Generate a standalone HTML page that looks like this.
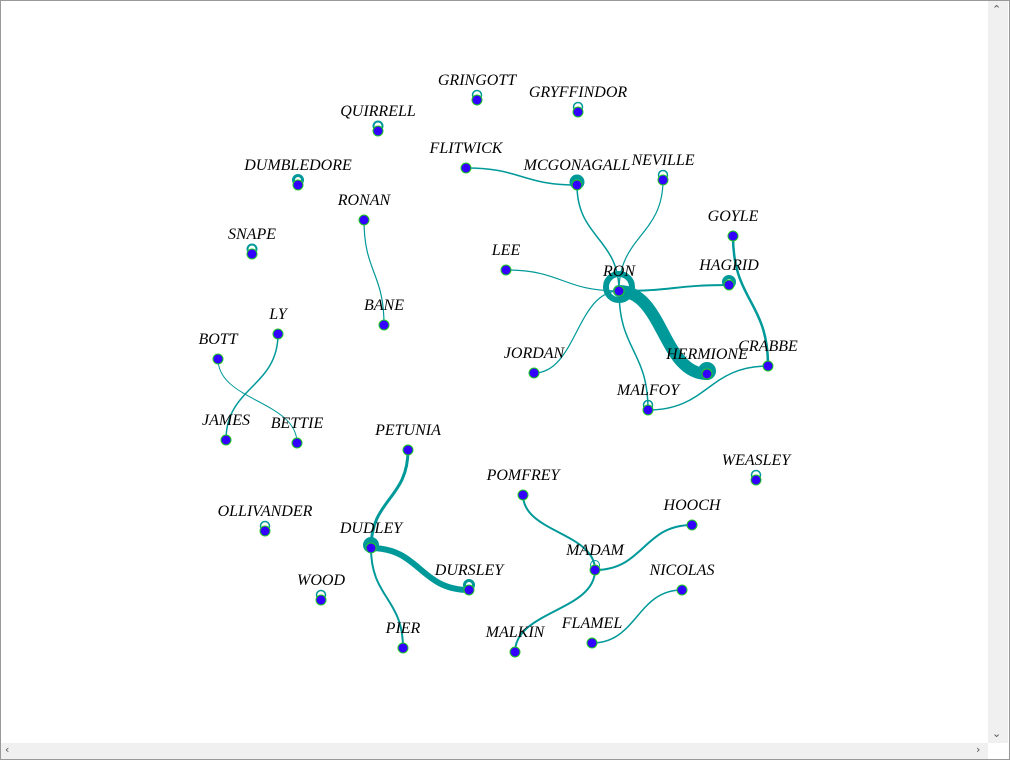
<!DOCTYPE html>
<html><head><meta charset="utf-8"><style>
body{margin:0;width:1010px;height:760px;overflow:hidden;background:#fff;font-family:"Liberation Serif",serif}
#frame{position:absolute;left:0;top:0;width:1008px;height:758px;border:1px solid #999;background:#fff}
.sbv{position:absolute;left:988px;top:1px;width:20px;height:742px;background:#f0f0f0}
.sbh{position:absolute;left:1px;top:743px;width:987px;height:16px;background:#f0f0f0}
.ar{position:absolute;font:11px "DejaVu Sans",sans-serif;color:#555}
text{font-family:"Liberation Serif",serif;font-style:italic;font-size:16px;fill:#000}
</style></head><body>
<div id="frame"></div>
<div class="sbv"></div>
<div class="sbh"></div>
<div class="ar" style="left:992px;top:3px">&#8963;</div>
<div class="ar" style="left:992px;top:727px">&#8964;</div>
<div class="ar" style="left:5px;top:743px">&lsaquo;</div>
<div class="ar" style="left:976px;top:743px">&rsaquo;</div>
<svg id="g" width="1010" height="760" style="position:absolute;left:0;top:0"></svg>
<script>
const nodeNames=["GRINGOTT","GRYFFINDOR","QUIRRELL","FLITWICK","MCGONAGALL","NEVILLE","DUMBLEDORE","RONAN","SNAPE","LEE","RON","HAGRID","GOYLE","BANE","LY","BOTT","JORDAN","HERMIONE","CRABBE","MALFOY","JAMES","BETTIE","PETUNIA","WEASLEY","POMFREY","HOOCH","OLLIVANDER","DUDLEY","MADAM","NICOLAS","DURSLEY","WOOD","PIER","FLAMEL","MALKIN"];
const nodeX=[477,578,378,466,577,663,298,364,252,506,619,729,733,384,278,218,534,707,768,648,226,297,408,756,523,692,265,371,595,682,469,321,403,592,515];
const nodeY=[100,112,131,168,185,180,185,220,254,270,291,285,236,325,334,359,373,374,366,410,440,443,450,480,495,525,531,548,570,590,590,600,648,643,652];
const edgeSource=["FLITWICK","MCGONAGALL","NEVILLE","LEE","JORDAN","RON","RON","RON","GOYLE","CRABBE","RONAN","LY","BOTT","PETUNIA","DUDLEY","DUDLEY","POMFREY","MADAM","MADAM","NICOLAS"];
const edgeTarget=["MCGONAGALL","RON","RON","RON","RON","HAGRID","HERMIONE","MALFOY","CRABBE","MALFOY","BANE","JAMES","BETTIE","DUDLEY","DURSLEY","PIER","MADAM","HOOCH","MALKIN","FLAMEL"];
const edgeWeight=[1.5,1.5,1.2,1.2,1.2,2,12,1.5,2.5,1.5,1.2,1.5,1,3,6,2,2,2,2,1.5];
const loopNode=["GRINGOTT","GRYFFINDOR","QUIRRELL","MCGONAGALL","NEVILLE","DUMBLEDORE","SNAPE","RON","HAGRID","HERMIONE","MALFOY","WEASLEY","OLLIVANDER","DUDLEY","DURSLEY","WOOD","MADAM"];
const loopWeight=[1.5,1.5,2,5,1.5,3,2,6,4,8,1.5,1.5,1.5,6,3,1.5,1];
const svg=document.getElementById('g'),NS='http://www.w3.org/2000/svg';
const idx=n=>nodeNames.indexOf(n);
function mk(t,a){const e=document.createElementNS(NS,t);for(const k in a)e.setAttribute(k,a[k]);svg.appendChild(e);return e;}
edgeSource.forEach((s,i)=>{const a=idx(s),b=idx(edgeTarget[i]);const x1=nodeX[a],y1=nodeY[a],x2=nodeX[b],y2=nodeY[b];
 let d;if(Math.abs(x2-x1)>Math.abs(y2-y1)){const m=(x1+x2)/2;d=`M${x1},${y1}C${m},${y1} ${m},${y2} ${x2},${y2}`;}else{const m=(y1+y2)/2;d=`M${x1},${y1}C${x1},${m} ${x2},${m} ${x2},${y2}`;}
 const p=mk('path',{d:d,fill:'none',stroke:'#009999','stroke-width':edgeWeight[i],'stroke-linecap':'round'});
 
 });
loopNode.forEach((n,i)=>{const a=idx(n);const w=loopWeight[i];
 let r,cy;
 if(n==='RON'){r=13;cy=nodeY[a]-4;}
 else if(w>=4){r=5;cy=nodeY[a]-3;}
 else{r=4.5;cy=nodeY[a]-5;}
 const c=mk('circle',{cx:nodeX[a],cy:cy,r:r,fill:'none',stroke:'#009999','stroke-width':w});
 
 });
nodeNames.forEach((n,i)=>{
 const c=mk('circle',{cx:nodeX[i],cy:nodeY[i],r:5,fill:'#3300ff',stroke:'#22cc22','stroke-width':1});
 
 
 const t=mk('text',{x:nodeX[i],y:nodeY[i]-15,'text-anchor':'middle'});t.textContent=n;
 
 });
</script>
</body></html>
